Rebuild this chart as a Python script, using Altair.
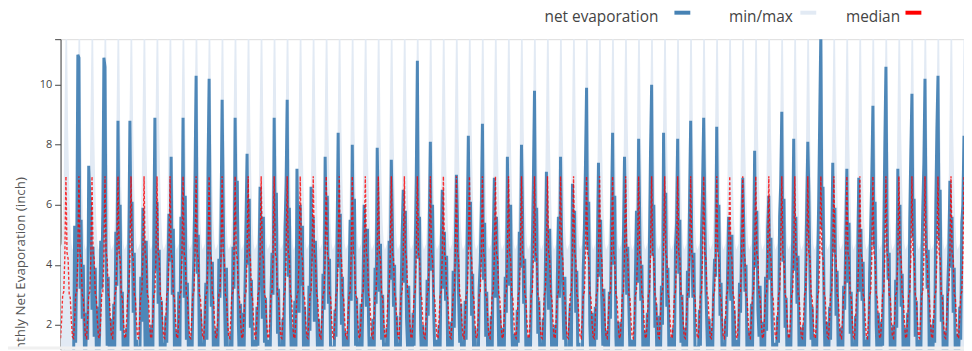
import altair as alt
import pandas as pd

# ---- data ----
start = "1954-01-01"

# median / min / max by calendar month (Jan..Dec)
median_by_month = [1.55, 2.2, 3.0, 3.1, 4.3, 6.95, 4.4, 4.2, 3.0, 2.9, 2.1, 1.6]
max_by_month = [4.6, 4.7, 5.5, 7.0, 10.0, 12.8, 12.0, 8.5, 6.6, 5.4, 4.7, 4.5]
min_by_month = [-3.2, -2.5, -2.0, -1.2, -0.8, -1.5, -0.4, -0.6, -2.2, -3.5, -2.8, -3.0]

# monthly net evaporation (inch), one row per year from 1954
net_evaporation_by_year = [
    [0.3, 0.1, 0.5, 0.8, 1.0, 0.9, 0.6, 0.4, 0.7, 1.0, 0.9, 0.8],
    [0.6, 5.3, 1.4, 4.6, 11.0, 10.9, 3.2, 5.5, 2.2, 4.0, 1.3, 0.4],
    [2.4, 1.5, 7.3, 6.3, 5.8, 2.5, 4.6, 1.6, 3.9, 1.1, 2.6, 0.5],
    [1.7, 4.8, 3.2, 5.8, 10.9, 10.6, 4.3, 1.3, 3.6, 0.6, 2.2, 0.9],
    [0.4, 2.7, 1.2, 5.1, 3.3, 8.8, 4.5, 6.0, 1.8, 3.1, 0.3, 1.6],
    [0.8, 1.9, 0.5, 4.7, 8.8, 5.2, 6.1, 2.4, 4.4, 0.7, 1.5, 0.2],
    [1.3, 0.4, 3.6, 2.1, 5.9, 4.2, 1.1, 4.8, 2.3, 0.6, 1.9, 0.3],
    [2.0, 0.7, 4.9, 8.9, 3.8, 6.1, 2.7, 4.5, 1.0, 2.8, 0.4, 1.4],
    [0.5, 2.3, 1.4, 3.9, 5.7, 4.1, 7.6, 3.0, 5.2, 1.2, 0.3, 1.8],
    [0.9, 3.1, 0.6, 5.6, 4.3, 8.9, 2.9, 6.3, 1.5, 3.4, 0.8, 0.2],
    [1.6, 0.4, 2.8, 4.4, 6.9, 10.3, 3.7, 5.0, 0.9, 2.5, 1.2, 0.5],
    [0.3, 2.1, 3.4, 1.5, 7.2, 10.2, 4.8, 2.6, 4.1, 0.7, 1.8, 0.6],
    [1.9, 0.8, 4.2, 2.9, 5.5, 9.5, 6.0, 3.3, 1.2, 3.9, 0.4, 1.3],
    [0.6, 1.7, 0.9, 4.6, 3.2, 8.9, 5.3, 6.8, 2.0, 0.5, 2.7, 0.3],
    [2.4, 0.5, 3.0, 5.4, 7.7, 4.0, 6.2, 1.9, 3.5, 1.0, 0.6, 1.5],
    [0.7, 2.6, 1.3, 3.8, 6.6, 4.9, 2.2, 5.6, 1.4, 2.9, 0.3, 0.9],
    [1.5, 0.3, 2.9, 4.4, 3.0, 8.9, 5.1, 6.4, 1.7, 3.2, 0.8, 0.4],
    [0.4, 2.2, 1.0, 5.2, 6.7, 9.5, 3.6, 5.9, 2.3, 0.6, 1.9, 1.1],
    [2.8, 1.2, 7.2, 4.6, 2.4, 6.0, 3.3, 5.3, 1.0, 2.6, 0.4, 1.7],
    [0.5, 3.3, 1.8, 6.6, 4.1, 5.6, 2.1, 4.8, 3.0, 0.9, 2.2, 0.3],
    [1.8, 0.6, 3.7, 2.5, 7.6, 5.0, 6.3, 2.7, 4.2, 1.1, 0.5, 1.3],
    [0.4, 2.5, 1.6, 4.9, 8.4, 3.9, 5.7, 2.0, 3.6, 0.7, 1.8, 0.9],
    [1.6, 0.9, 3.3, 5.5, 2.8, 8.0, 4.4, 6.2, 1.3, 2.9, 0.3, 1.2],
    [0.8, 2.7, 1.2, 3.6, 6.0, 4.5, 2.6, 5.2, 2.1, 0.4, 1.6, 0.6],
    [2.2, 0.5, 3.9, 2.7, 7.9, 5.6, 3.1, 4.7, 1.5, 3.0, 0.7, 1.4],
    [0.6, 1.9, 0.8, 4.8, 3.5, 7.5, 5.4, 2.6, 4.0, 1.0, 2.3, 0.4],
    [1.4, 0.3, 3.1, 5.0, 6.5, 3.4, 5.8, 2.2, 1.2, 3.3, 0.5, 1.9],
    [0.5, 2.4, 1.3, 4.3, 6.9, 10.8, 4.2, 5.6, 1.8, 0.6, 2.0, 0.8],
    [1.7, 0.7, 3.5, 2.3, 5.3, 8.1, 3.8, 6.0, 2.5, 1.1, 0.3, 1.5],
    [0.3, 2.0, 1.1, 4.5, 6.5, 3.2, 5.1, 2.8, 4.3, 0.8, 1.6, 0.5],
    [2.1, 0.6, 3.8, 1.9, 4.7, 7.0, 5.5, 3.0, 1.4, 2.7, 0.4, 1.0],
    [0.9, 2.8, 1.5, 5.3, 8.3, 4.6, 6.1, 2.3, 3.7, 0.5, 1.9, 0.7],
    [1.3, 0.4, 3.2, 4.1, 5.8, 8.7, 3.5, 5.4, 1.6, 3.1, 0.6, 1.8],
    [0.6, 2.3, 0.9, 4.7, 6.9, 2.9, 5.6, 3.6, 1.2, 2.5, 0.3, 1.1],
    [1.9, 0.8, 3.6, 2.4, 7.6, 5.1, 3.3, 6.0, 2.0, 0.7, 1.7, 0.4],
    [0.4, 2.5, 1.4, 5.1, 3.9, 8.0, 5.7, 2.7, 4.2, 1.3, 0.6, 1.6],
    [1.5, 0.5, 3.0, 4.6, 6.8, 9.8, 4.1, 5.9, 1.7, 2.8, 0.8, 0.3],
    [0.7, 2.2, 1.0, 3.7, 7.1, 4.8, 2.5, 5.2, 3.1, 0.6, 1.9, 1.2],
    [2.0, 0.4, 3.4, 5.6, 2.9, 7.6, 4.9, 3.2, 1.5, 3.6, 0.5, 0.9],
    [0.5, 1.8, 2.7, 1.1, 6.7, 4.4, 5.8, 2.4, 3.8, 0.8, 1.4, 0.3],
    [1.2, 0.6, 3.9, 5.2, 7.3, 9.9, 4.5, 6.1, 2.0, 0.7, 2.4, 1.0],
    [0.3, 2.6, 1.5, 4.4, 7.4, 3.6, 5.5, 2.9, 1.3, 3.2, 0.6, 1.7],
    [1.8, 0.7, 3.1, 2.2, 5.7, 8.4, 4.0, 6.3, 1.6, 0.4, 2.1, 0.8],
    [0.6, 2.1, 1.2, 4.9, 7.6, 5.3, 3.0, 4.6, 2.6, 1.0, 0.3, 1.5],
    [1.4, 0.4, 3.5, 5.8, 3.4, 8.2, 5.6, 2.8, 4.0, 0.9, 1.8, 0.5],
    [0.8, 2.4, 1.1, 4.7, 7.8, 10.0, 4.3, 6.0, 1.9, 2.7, 0.4, 1.2],
    [2.3, 0.6, 3.3, 2.0, 8.4, 5.0, 6.4, 2.6, 3.9, 0.7, 1.6, 0.3],
    [0.4, 1.9, 0.9, 4.6, 5.4, 8.2, 3.7, 5.5, 1.4, 3.0, 0.8, 1.9],
    [1.6, 0.5, 3.8, 2.9, 6.1, 8.8, 4.8, 2.9, 4.4, 1.1, 0.5, 1.3],
    [0.7, 2.5, 1.3, 5.0, 6.6, 8.9, 5.9, 3.3, 1.8, 0.4, 2.2, 0.6],
    [1.9, 0.3, 3.0, 4.2, 3.6, 8.6, 4.5, 6.0, 2.3, 3.4, 0.7, 1.4],
    [0.5, 2.2, 1.6, 3.7, 5.6, 4.1, 2.8, 5.0, 1.2, 2.5, 0.4, 0.9],
    [1.5, 0.8, 3.4, 2.4, 4.9, 6.9, 5.3, 3.1, 4.0, 0.6, 1.8, 0.3],
    [0.4, 2.7, 1.0, 4.3, 7.8, 3.9, 5.8, 2.5, 1.6, 3.3, 0.9, 1.7],
    [2.1, 0.6, 3.6, 1.8, 5.2, 6.3, 3.5, 4.9, 2.2, 0.5, 1.4, 0.7],
    [0.9, 2.3, 1.4, 5.6, 6.7, 9.1, 4.1, 6.2, 1.9, 2.9, 0.3, 1.3],
    [1.7, 0.4, 3.2, 4.8, 8.2, 3.8, 5.6, 2.7, 4.3, 0.8, 1.9, 0.5],
    [0.6, 2.0, 1.2, 3.5, 5.9, 8.1, 6.4, 3.6, 1.5, 2.6, 0.4, 1.6],
    [1.3, 0.7, 3.9, 6.1, 9.0, 11.8, 5.2, 6.6, 2.4, 0.6, 2.1, 0.8],
    [0.4, 2.6, 1.5, 4.6, 7.4, 4.4, 5.9, 2.3, 3.8, 1.0, 0.5, 1.8],
    [1.9, 0.5, 3.3, 2.5, 5.0, 7.2, 3.4, 5.4, 1.7, 3.1, 0.6, 1.1],
    [0.7, 2.3, 1.0, 4.2, 6.9, 3.1, 5.2, 2.8, 4.1, 0.9, 1.5, 0.4],
    [1.6, 0.3, 3.7, 5.3, 7.0, 9.3, 4.6, 6.1, 2.0, 0.7, 2.4, 1.2],
    [0.5, 2.1, 1.3, 4.9, 8.0, 10.6, 5.8, 3.5, 4.4, 1.1, 0.6, 1.5],
    [2.0, 0.6, 3.5, 1.9, 7.2, 4.7, 6.0, 2.6, 3.7, 0.5, 1.9, 0.7],
    [0.8, 2.4, 1.1, 5.5, 7.8, 9.7, 4.9, 6.2, 1.6, 2.8, 0.4, 1.3],
    [1.5, 0.4, 3.8, 5.9, 7.4, 10.2, 5.4, 3.2, 4.5, 0.6, 2.0, 0.9],
    [0.6, 2.2, 1.4, 6.0, 8.5, 10.3, 4.8, 6.5, 2.1, 3.0, 0.5, 1.6],
    [1.8, 0.5, 3.2, 4.4, 6.8, 3.9, 5.6, 2.4, 3.9, 0.8, 1.7, 0.4],
    [0.9, 2.6, 1.5, 5.4, 6.0, 8.3],
]

y_ticks = [2, 4, 6, 8, 10]
y_min, y_max = 1.174, 11.52

legend_labels = ["net evaporation", "min/max", "median"]
legend_colors = ["#4682b4", "#e2eaf4", "red"]

# ---- build table ----
values = [v for row in net_evaporation_by_year for v in row]
dates = pd.date_range(start, periods=len(values), freq="MS")
df = pd.DataFrame({
    "date": dates,
    "net": values,
    "median": [median_by_month[d.month - 1] for d in dates],
    "vmin": [min_by_month[d.month - 1] for d in dates],
    "vmax": [max_by_month[d.month - 1] for d in dates],
})

x_enc = alt.X("date:T", axis=None, scale=alt.Scale(nice=False, padding=0))
y_scale = alt.Scale(domain=[y_min, y_max], nice=False, zero=False)

base = alt.Chart(df)

band = base.mark_area(color=legend_colors[1], clip=True, opacity=1).encode(
    x=x_enc,
    y=alt.Y(
        "vmin:Q",
        scale=y_scale,
        axis=alt.Axis(
            values=y_ticks + [y_max],
            labelExpr="datum.value > 11 ? '' : datum.label",
            title="Monthly Net Evaporation (inch)",
            titleFont="Open Sans",
            titleFontSize=13.5,
            titleFontWeight="normal",
            titleColor="#555555",
            titleAngle=270,
            titleX=-40,
            titleY=236,
            titleAlign="center",
            titleBaseline="middle",
            labelFont="Open Sans",
            labelFontSize=11,
            labelColor="#444444",
            labelPadding=3,
            tickSize=6,
            tickColor="#444444",
            domainColor="#444444",
            grid=False,
        ),
    ),
    y2="vmax:Q",
)

net_line = base.mark_line(
    color=legend_colors[0], strokeWidth=3, opacity=0.95, clip=True
).encode(x=x_enc, y=alt.Y("net:Q", scale=y_scale))

median_line = base.mark_line(
    color=legend_colors[2], strokeWidth=1.4, strokeDash=[3, 2], opacity=0.8, clip=True
).encode(x=x_enc, y=alt.Y("median:Q", scale=y_scale))

# thin grey strip at the very bottom of the picture
strip = alt.Chart(pd.DataFrame({"s": [0]})).mark_rect(color="#f0f0f0").encode(
    x=alt.value(-53), x2=alt.value(911), y=alt.value(310), y2=alt.value(313)
)

# custom legend (label text followed by a swatch)
leg_text_x = [488, 674, 792]
leg_sym_x = [619, 746, 852]
legend_layers = []
for lab, col, tx, sx in zip(legend_labels, legend_colors, leg_text_x, leg_sym_x):
    ldf = pd.DataFrame({"label": [lab]})
    legend_layers.append(
        alt.Chart(ldf).mark_text(
            align="left", baseline="alphabetic", font="Open Sans", fontSize=15.5, color="#444444"
        ).encode(text="label:N", x=alt.value(tx), y=alt.value(-17.3))
    )
    legend_layers.append(
        alt.Chart(ldf).mark_rect(color=col).encode(
            x=alt.value(sx), x2=alt.value(sx + 16), y=alt.value(-28.7), y2=alt.value(-24.7)
        )
    )

chart = alt.layer(band, net_line, median_line, strip, *legend_layers).properties(
    width=911,
    height=313,
    autosize=alt.AutoSizeParams(type="none"),
    padding={"left": 53, "top": 30, "right": 0, "bottom": 0},
).configure_view(stroke=None).configure(background="white")

chart.save("out.html", embed_options={"renderer": "svg", "actions": False})
